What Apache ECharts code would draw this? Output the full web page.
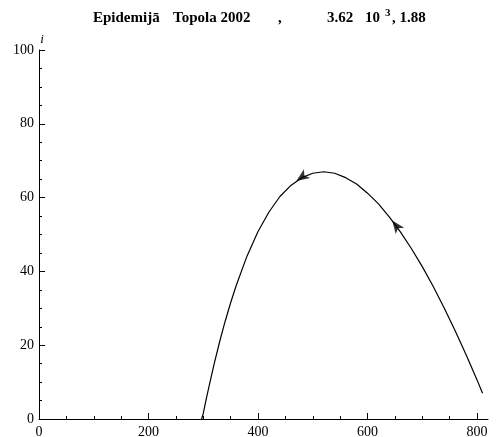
<!DOCTYPE html>
<html>
<head>
<meta charset="utf-8">
<script src="https://cdn.jsdelivr.net/npm/echarts@6/dist/echarts.min.js"></script>
<style>
  html, body { margin: 0; padding: 0; background: #fff; }
  #chart { width: 499px; height: 437px; }
</style>
</head>
<body>
<div id="chart"></div>
<script>
// phase curve (s, i)
var sValues = [297, 300, 305, 310, 320, 330, 340, 350, 360, 380, 400, 420, 440, 460, 480, 500,
  520, 540, 560, 580, 600, 620, 640, 660, 680, 700, 720, 740, 760, 780, 800, 810];
var iValues = [0, 1.5, 5.1, 8.5, 15.0, 21.0, 26.5, 31.5, 36.1, 44.2, 50.8, 56.1, 60.3, 63.3, 65.4, 66.6,
  67.0, 66.6, 65.4, 63.7, 61.2, 58.3, 54.7, 50.7, 46.2, 41.3, 35.9, 30.1, 23.9, 17.4, 10.6, 7.0];

// direction arrows on the curve
var arrowS = [470, 645];
var arrowI = [64.5, 53.8];
var arrowAngle = [125, 37];

var xMajorTicks = [0, 200, 400, 600, 800];
var xMinorTicks = [50, 100, 150, 250, 300, 350, 450, 500, 550, 650, 700, 750];

var serif = '"Liberation Serif", "DejaVu Serif", serif';

var curve = sValues.map(function (s, k) { return [s, iValues[k]]; });
var arrows = arrowS.map(function (s, k) {
  return { value: [s, arrowI[k]], symbolRotate: arrowAngle[k] };
});

var chart = echarts.init(document.getElementById('chart'), null, { renderer: 'canvas' });

function tw(w) {
  return { fontFamily: serif, fontWeight: 'bold', fontSize: 15, color: '#000', width: w };
}

var option = {
  backgroundColor: '#ffffff',
  animation: false,
  title: {
    text: '{a|Epidemijā}{b|Topola 2002}{c|,}{d|3.62}{e|10}{sup|3}{f|, 1.88}',
    left: 88,
    top: 3,
    textStyle: {
      rich: {
        a: tw(80),
        b: tw(105),
        c: tw(49),
        d: tw(38),
        e: tw(20),
        f: tw(50),
        sup: { fontFamily: serif, fontWeight: 'bold', fontSize: 11, color: '#000', width: 7, verticalAlign: 'bottom', padding: [0, 0, 9, 0] }
      }
    }
  },
  grid: { left: 39, right: 11, top: 50, bottom: 18, outerBoundsMode: 'none' },
  xAxis: [{
    type: 'value',
    min: 0,
    max: 820,
    position: 'bottom',
    splitLine: { show: false },
    axisLine: { lineStyle: { color: '#000', width: 1 } },
    axisTick: { inside: true, length: 6, lineStyle: { color: '#000' }, customValues: xMajorTicks },
    axisLabel: { customValues: xMajorTicks, color: '#000', fontFamily: serif, fontSize: 14, margin: 6 }
  }, {
    type: 'value',
    min: 0,
    max: 820,
    position: 'bottom',
    splitLine: { show: false },
    axisLine: { show: false },
    axisTick: { inside: true, length: 3, lineStyle: { color: '#000' }, customValues: xMinorTicks },
    axisLabel: { show: false }
  }],
  yAxis: {
    type: 'value',
    min: 0,
    max: 100,
    interval: 20,
    name: 'i',
    nameLocation: 'end',
    nameGap: 4,
    nameTextStyle: { fontFamily: serif, fontStyle: 'italic', fontSize: 13, color: '#000', padding: [0, 0, 0, 6] },
    splitLine: { show: false },
    axisLine: { lineStyle: { color: '#000', width: 1 } },
    axisTick: { inside: true, length: 6, lineStyle: { color: '#000' } },
    minorTick: { show: true, splitNumber: 4, length: 3, lineStyle: { color: '#000' } },
    axisLabel: { color: '#000', fontFamily: serif, fontSize: 14, margin: 5 }
  },
  series: [{
    type: 'line',
    data: curve,
    showSymbol: false,
    lineStyle: { color: '#000', width: 1.2 },
    silent: true
  }, {
    type: 'scatter',
    data: arrows,
    symbol: 'arrow',
    symbolSize: [8, 13],
    itemStyle: { color: '#000' },
    silent: true
  }]
};

chart.setOption(option);
</script>
</body>
</html>
